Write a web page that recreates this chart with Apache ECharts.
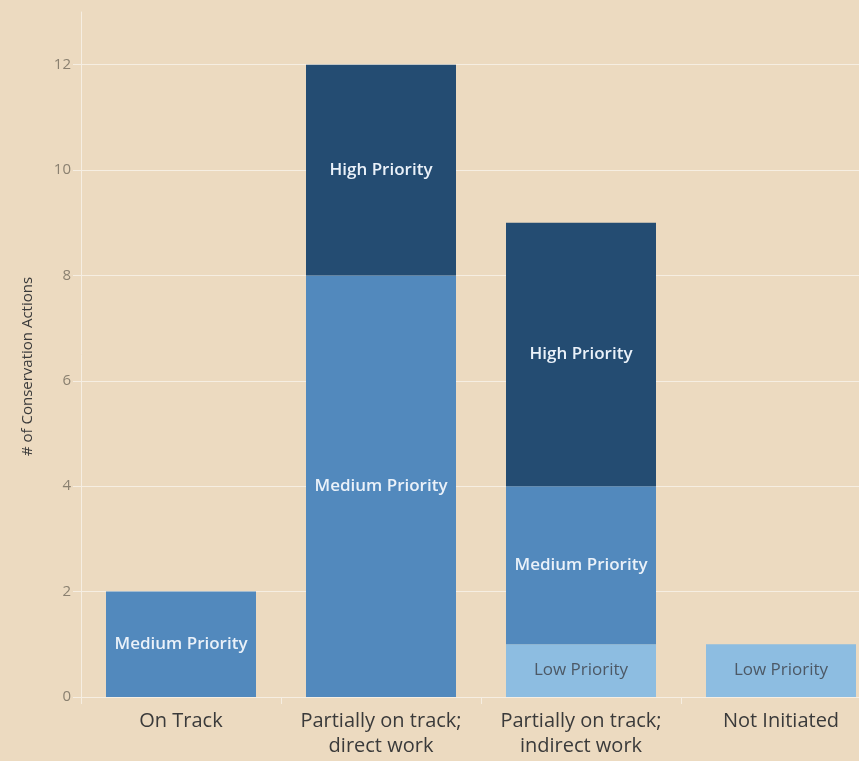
<!DOCTYPE html>
<html><head><meta charset="utf-8">
<script src="https://cdn.jsdelivr.net/npm/echarts@6/dist/echarts.min.js"></script>
<style>html,body{margin:0;padding:0;background:#ECDAC0;overflow:hidden;width:859px;height:761px;}#c{width:881px;height:761px;}</style>
</head><body><div id="c"></div>
<script>
var categories = ['On Track', 'Partially on track;\ndirect work', 'Partially on track;\nindirect work', 'Not Initiated'];
var lowPriority = [null, null, 1, 1];
var mediumPriority = [2, 8, 3, null];
var highPriority = [null, 4, 5, null];

var chart = echarts.init(document.getElementById('c'));
var font = '"Open Sans", Lato, sans-serif';
function seg(name, data, color, labelColor, weight, size) {
  return {
    name: name, type: 'bar', stack: 'total', data: data, barWidth: 150,
    itemStyle: { color: color },
    label: { show: true, position: 'inside', formatter: name, color: labelColor,
      fontFamily: font, fontSize: size, fontWeight: weight },
    emphasis: { disabled: true }
  };
}
chart.setOption({
  backgroundColor: '#ECDAC0',
  animation: false,
  grid: { left: 81, top: 12, right: 0, bottom: 64, containLabel: false },
  xAxis: {
    type: 'category', data: categories,
    axisLine: { show: true, lineStyle: { color: '#F6EEE2', width: 1 } },
    axisTick: { show: true, length: 7, lineStyle: { color: '#F6EEE2' } },
    axisLabel: { interval: 0, color: '#3a3a3a', fontFamily: font, fontSize: 20, margin: 12, lineHeight: 25 }
  },
  yAxis: {
    type: 'value', min: 0, max: 13, interval: 2,
    name: '# of Conservation Actions', nameLocation: 'middle', nameGap: 46, nameRotate: 90,
    nameTextStyle: { color: '#3a3a3a', fontFamily: font, fontSize: 15, padding: [0, 24, 0, 0] },
    axisLine: { show: true, lineStyle: { color: '#F6EEE2' } },
    axisTick: { show: true, length: 8, lineStyle: { color: '#F6EEE2' } },
    axisLabel: { color: '#8a8070', fontFamily: font, fontSize: 15, margin: 10, showMaxLabel: false },
    splitLine: { show: true, showMaxLine: false, lineStyle: { color: '#F6EEE2', width: 1 } }
  },
  series: [
    seg('Low Priority', lowPriority, '#8DBDE1', '#4d5966', 'normal', 17),
    seg('Medium Priority', mediumPriority, '#5289BD', '#EAF1F9', 600, 17),
    seg('High Priority', highPriority, '#244C72', '#EAF1F9', 600, 17)
  ]
});
</script></body></html>
